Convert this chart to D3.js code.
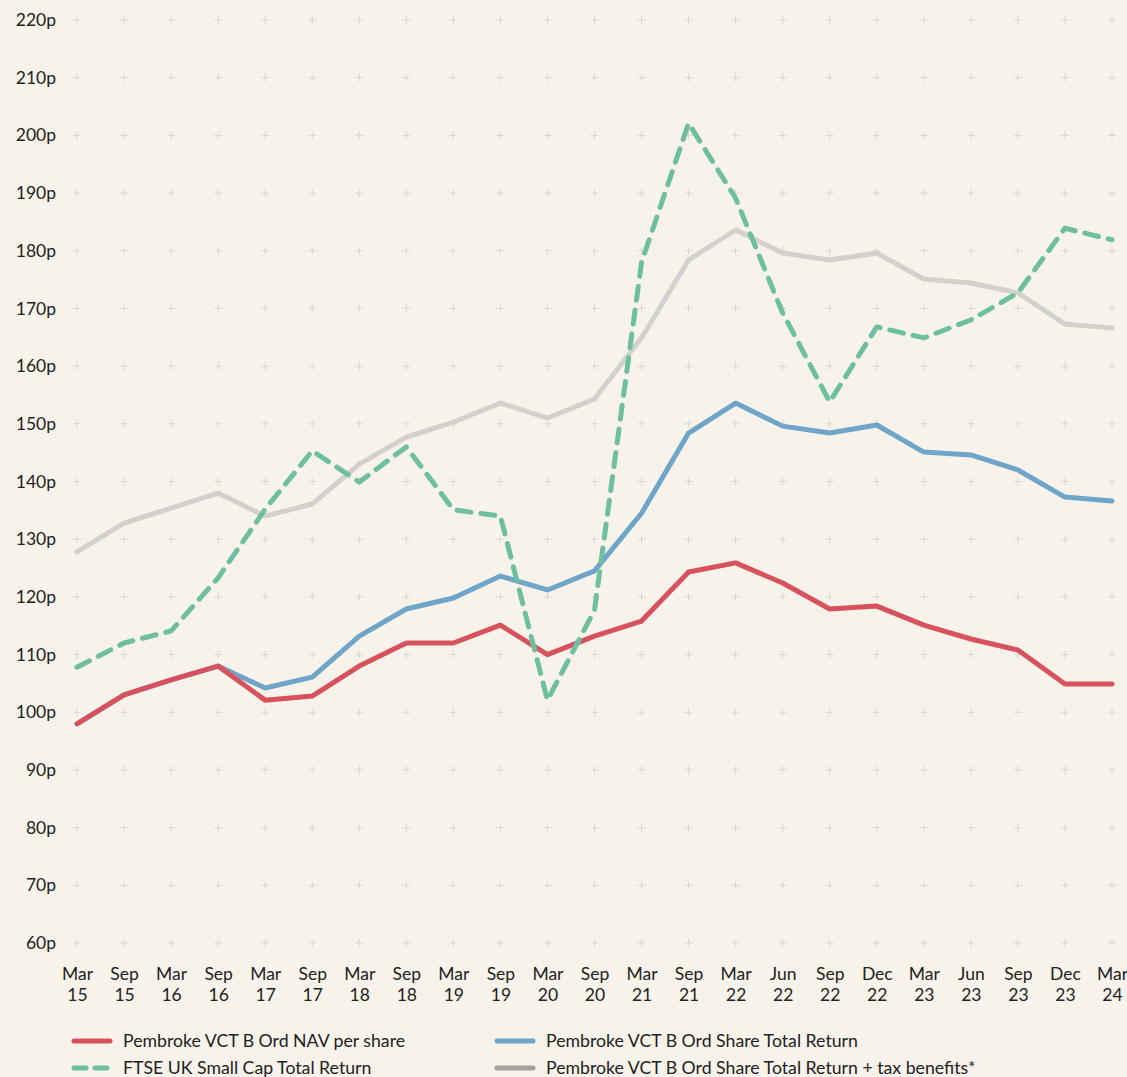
<!DOCTYPE html>
<html><head><meta charset="utf-8">
<script src="https://cdn.jsdelivr.net/npm/d3@7"></script>
<style>
html,body{margin:0;padding:0;background:#f7f3ea;}
svg{display:block;}
text{font-family:Lato,"Noto Sans",sans-serif;fill:#222;}
</style></head>
<body>
<svg id="c" width="1127" height="1077"></svg>
<script>
const categories = ["Mar 15","Sep 15","Mar 16","Sep 16","Mar 17","Sep 17","Mar 18","Sep 18","Mar 19","Sep 19","Mar 20","Sep 20","Mar 21","Sep 21","Mar 22","Jun 22","Sep 22","Dec 22","Mar 23","Jun 23","Sep 23","Dec 23","Mar 24"];
const navPerShare = [98,103,105.6,108,102.1,102.8,108,112,112,115.1,110,113.2,115.8,124.3,125.9,122.4,117.9,118.4,115.1,112.7,110.8,104.9,104.9];
const shareTotalReturn = [98,103,105.6,108,104.2,106.1,113.2,117.9,119.8,123.6,121.2,124.5,134.5,148.4,153.6,149.6,148.4,149.8,145.1,144.6,142,137.3,136.6];
const ftseSmallCap = [107.8,112,114.1,123.3,135.2,145.3,139.9,146,135.1,134,102.1,117.7,178,202.1,189.1,169.2,153.8,166.8,164.9,168,172.7,183.9,181.9];
const totalReturnTax = [127.8,132.8,135.4,138,134,136.1,143,147.7,150.3,153.6,151,154.3,164.9,178.4,183.6,179.6,178.4,179.6,175.1,174.4,172.7,167.3,166.6];
const yTicks = [60,70,80,90,100,110,120,130,140,150,160,170,180,190,200,210,220];

const series = [
  {name:"Pembroke VCT B Ord Share Total Return + tax benefits*", values: totalReturnTax, color:"#d3d1ce", legendColor:"#a3a19e", dash:null},
  {name:"Pembroke VCT B Ord Share Total Return", values: shareTotalReturn, color:"#6fa5c9", legendColor:"#6fa5c9", dash:null},
  {name:"Pembroke VCT B Ord NAV per share", values: navPerShare, color:"#d8525e", legendColor:"#d8525e", dash:null},
  {name:"FTSE UK Small Cap Total Return", values: ftseSmallCap, color:"#6dbf9f", legendColor:"#6dbf9f", dash:"14,10"}
];

const svg = d3.select("#c");
const x = d3.scalePoint().domain(categories).range([77,1112]);
const y = d3.scaleLinear().domain([60,220]).range([943,20]);

// grid crosses
const g = svg.append("g");
categories.forEach(c=>{
  yTicks.forEach(t=>{
    const cx=x(c), cy=y(t);
    g.append("path").attr("d",`M${cx-4},${cy}H${cx+4}M${cx},${cy-4}V${cy+4}`)
      .attr("stroke","#d9d7d2").attr("stroke-width",1).attr("fill","none");
  });
});

// y axis labels
const yAxis = d3.axisLeft(y).tickValues(yTicks).tickSize(0).tickPadding(0).tickFormat(d=>d+"p");
const ya = svg.append("g").attr("transform","translate(56,0)").call(yAxis);
ya.select(".domain").remove();
ya.selectAll("text").attr("font-size",17.5).attr("font-family","Lato,'Noto Sans',sans-serif").attr("fill","#222").attr("dy","0.32em");

// x axis labels
const xAxis = d3.axisBottom(x).tickSize(0).tickPadding(0).tickFormat(()=> "");
const xa = svg.append("g").attr("transform","translate(0,958)").call(xAxis);
xa.select(".domain").remove();
xa.selectAll(".tick").each(function(d){
  const parts=d.split(" ");
  const t=d3.select(this).select("text").attr("font-size",17.5).attr("font-family","Lato,'Noto Sans',sans-serif").attr("fill","#222").attr("y",0).attr("dy",0);
  t.text(null);
  t.append("tspan").attr("x",0).attr("y",22).text(parts[0]);
  t.append("tspan").attr("x",0).attr("y",43).text(parts[1]);
});

// lines
const line = d3.line().x((d,i)=>x(categories[i])).y(d=>y(d));
series.forEach(s=>{
  svg.append("path").datum(s.values).attr("d",line)
    .attr("fill","none").attr("stroke",s.color).attr("stroke-width",5)
    .attr("stroke-linejoin","round").attr("stroke-linecap","round")
    .attr("stroke-dasharray",s.dash);
});

// legend
const legendItems = [
  {s:series[2], lx:72, ly:1041},
  {s:series[1], lx:495, ly:1041},
  {s:series[3], lx:72, ly:1068},
  {s:series[0], lx:495, ly:1068}
];
legendItems.forEach(it=>{
  const lg=svg.append("g");
  lg.append("line").attr("x1",it.lx+2).attr("x2",it.lx+38).attr("y1",it.ly).attr("y2",it.ly)
    .attr("stroke",it.s.legendColor).attr("stroke-width",5).attr("stroke-linecap","round")
    .attr("stroke-dasharray",it.s.dash?"12,9":null);
  lg.append("text").attr("x",it.lx+51).attr("y",it.ly).attr("dy","0.35em")
    .attr("font-size",17.7).text(it.s.name);
});
</script>
</body></html>
